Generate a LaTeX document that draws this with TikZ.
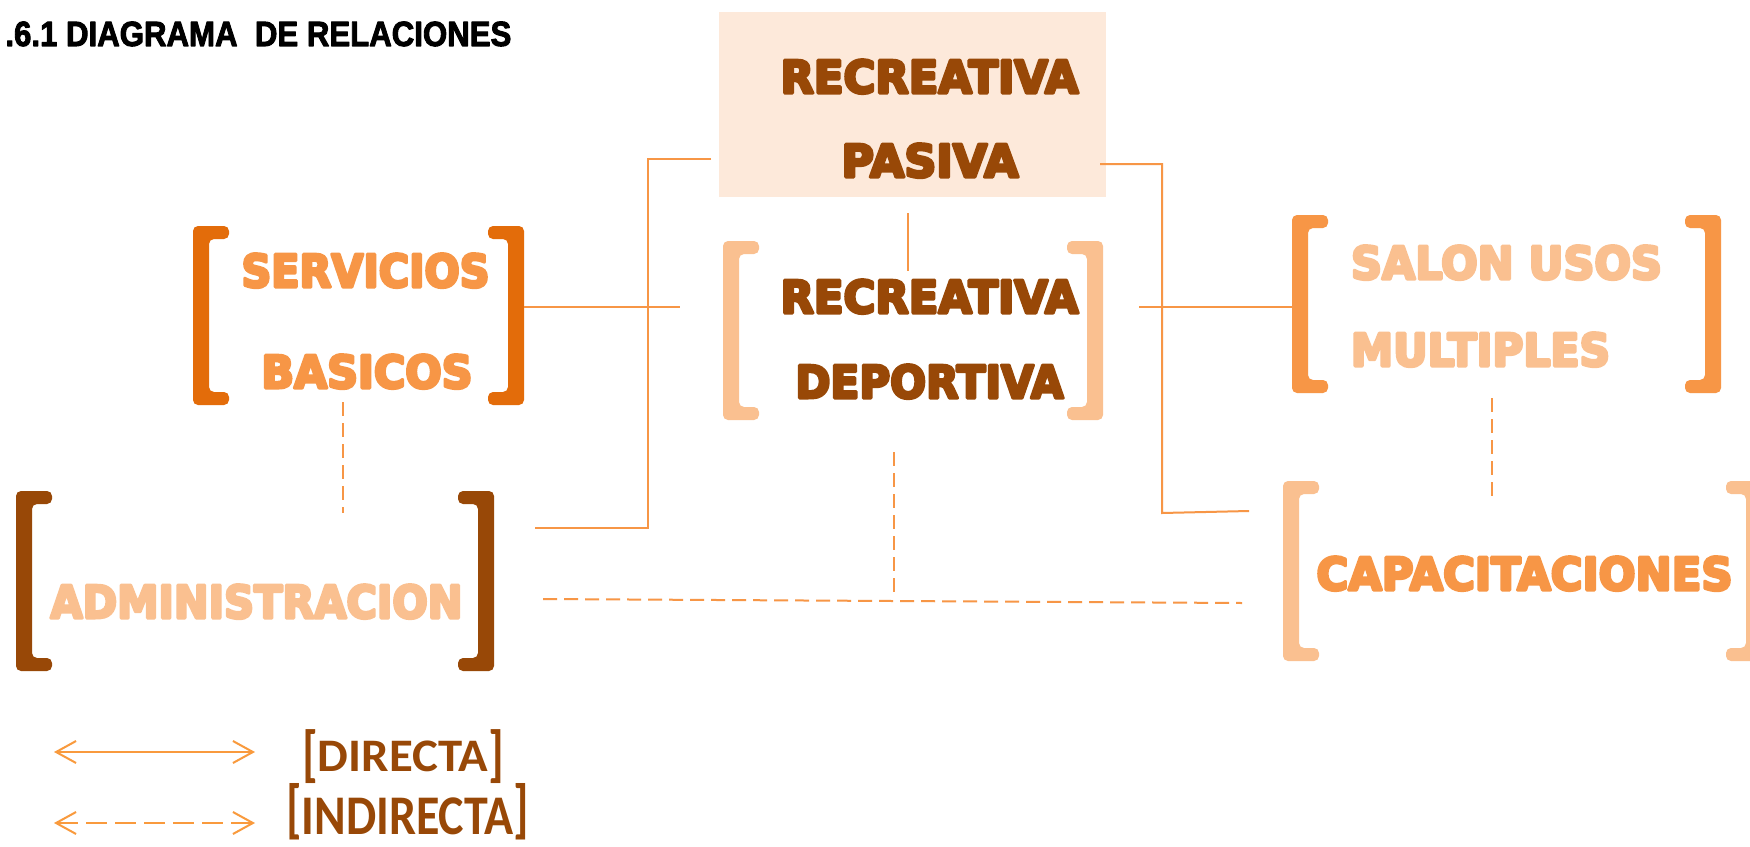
\documentclass[tikz,border=0pt]{standalone}
\usepackage{fontspec}
\usepackage{graphicx}
\usetikzlibrary{calc,arrows.meta}
\newfontfamily\dvfont{DejaVu Sans}[UprightFont={* Bold}]
\newfontfamily\lsfont{Liberation Sans}
\newfontfamily\cafont{Carlito}
\newcommand\dvb{\dvfont\fontsize{22.5pt}{27pt}\selectfont}
\newcommand\tallbr[3][-0.07em]{\raisebox{#1}{\scalebox{1}[#2]{#3}}}
% heavier text: fill and stroke the glyphs
\newcommand\hvy[2]{\special{pdf:code q #1 w 1 j 2 Tr}#2\special{pdf:code Q}}
\definecolor{cBrown}{HTML}{984807}
\definecolor{cDkOr}{HTML}{E36C0A}
\definecolor{cOr}{HTML}{F79646}
\definecolor{cLtOr}{HTML}{FAC090}
\definecolor{cPeach}{HTML}{FDE9DA}
\definecolor{cArrow}{HTML}{F99A3D}
\newcommand\drawbrk[2]{%
 \fill[#2, rounded corners=2.5pt] (#1.north west) -- ($(#1.north west)+(36,0)$) -- ($(#1.north west)+(36,13)$) -- ($(#1.north west)+(16,13)$) -- ($(#1.south west)+(16,-13)$) -- ($(#1.south west)+(36,-13)$) -- ($(#1.south west)+(36,0)$) -- (#1.south west) -- cycle;
 \fill[#2, rounded corners=2.5pt] (#1.north east) -- ($(#1.north east)+(-36,0)$) -- ($(#1.north east)+(-36,13)$) -- ($(#1.north east)+(-16,13)$) -- ($(#1.south east)+(-16,-13)$) -- ($(#1.south east)+(-36,-13)$) -- ($(#1.south east)+(-36,0)$) -- (#1.south east) -- cycle;}
\newcommand\lab[2]{\resizebox{#1}{\height}{\hvy{1.5}{#2}}}
\begin{document}
\begin{tikzpicture}[x=0.5pt,y=-0.5pt,
  conn/.style={draw=cOr, line width=1pt},
  dconn/.style={draw=cOr, line width=1pt, dash pattern=on 7pt off 3.5pt},
  brk/.style={inner sep=0pt, outer sep=0pt, minimum height=89.5pt},
  lbl/.style={inner sep=0pt, outer sep=0pt, anchor=base, font=\dvb},
  legarrow/.style={draw=cArrow, line width=1pt, {Straight Barb[length=10pt,width=11pt]}-{Straight Barb[length=10pt,width=11pt]}}]
\useasboundingbox (0,0) rectangle (1750,846);
\clip (0,0) rectangle (1750,846);
\fill[white] (0,0) rectangle (1750,846);

% title
\node[inner sep=0pt, anchor=base west, font=\lsfont\bfseries\fontsize{17.5pt}{21pt}\selectfont] (title) at (5,46) {\resizebox{253pt}{\height}{\hvy{0.5}{.6.1 DIAGRAMA\ \ DE RELACIONES}}};

% boxes
\node[fill=cPeach, inner sep=0pt, outer sep=0pt, minimum width=193.5pt, minimum height=92.5pt] (pas) at (912.5,104.5) {};
\node[brk, minimum width=165.5pt] (serv) at (358.5,315.5) {};
\node[brk, minimum width=190pt] (dep) at (913,330.5) {};
\node[brk, minimum width=214.5pt, minimum height=89pt] (salon) at (1506.5,304) {};
\node[brk, minimum width=239pt, minimum height=90pt] (adm) at (255,581) {};
\node[brk, minimum width=239.5pt, minimum height=90pt] (cap) at (1522.5,571) {};

\drawbrk{serv}{cDkOr}
\drawbrk{dep}{cLtOr}
\drawbrk{salon}{cOr}
\drawbrk{adm}{cBrown}
\drawbrk{cap}{cLtOr}

% labels
\node[lbl, text=cBrown] (pas1) at (929.5,93) {\lab{149pt}{RECREATIVA}};
\node[lbl, text=cBrown] (pas2) at (930,177) {\lab{88.5pt}{PASIVA}};
\node[lbl, text=cOr] (serv1) at (365.5,287) {\lab{124pt}{SERVICIOS}};
\node[lbl, text=cOr] (serv2) at (367,388) {\lab{105.5pt}{BASICOS}};
\node[lbl, text=cBrown] (dep1) at (929.5,313) {\lab{149pt}{RECREATIVA}};
\node[lbl, text=cBrown] (dep2) at (929.5,398) {\lab{134pt}{DEPORTIVA}};
\node[lbl, anchor=base west, text=cLtOr] (sal1) at (1351,279) {\lab{155.5pt}{SALON USOS}};
\node[lbl, anchor=base west, text=cLtOr] (sal2) at (1351,366) {\lab{129.5pt}{MULTIPLES}};
\node[lbl, text=cLtOr] (adm1) at (256.5,618) {\lab{206pt}{ADMINISTRACION}};
\node[lbl, text=cOr] (cap1) at (1524.5,590) {\lab{208pt}{CAPACITACIONES}};

% direct connectors
\coordinate (p1) at (711,159);
\coordinate (p2) at (648,159);
\coordinate (p3) at (648,528);
\coordinate (p4) at (535,528);
\draw[conn] (p1) -- (p2) -- (p3) -- (p4);
\coordinate (s1) at (680,307);
\draw[conn] (serv.east |- s1) -- (s1);
\coordinate (q1) at (1162,164);
\coordinate (q2) at (1162,513);
\coordinate (q3) at (1249,511);
\draw[conn] ($(pas.east |- q1)+(-6,0)$) -- (q1) -- (q2) -- (q3);
\coordinate (r1) at (1139,307);
\draw[conn] (r1) -- (salon.west |- r1);
\coordinate (v1) at (908,213);
\coordinate (v2) at (908,271);
\draw[conn] (v1) -- (v2);

% indirect connectors
\coordinate (d1) at (343,402);
\coordinate (d2) at (343,513);
\draw[dconn] (d1) -- (d2);
\coordinate (e1) at (894,452);
\coordinate (e2) at (894,599);
\draw[dconn] (e1) -- (e2);
\coordinate (f1) at (543,599);
\coordinate (f2) at (1242,603);
\draw[dconn] (f1) -- (f2);
\coordinate (g1) at (1492,398);
\coordinate (g2) at (1492,499);
\draw[dconn] (g1) -- (g2);

% legend
\coordinate (l1a) at (54,752);
\coordinate (l1b) at (255,752);
\draw[legarrow] (l1a) -- (l1b);
\coordinate (l2a) at (54,823);
\coordinate (l2b) at (255,823);
\draw[legarrow, dash pattern=on 10.5pt off 4pt] (l2a) -- (l2b);
\node[inner sep=0pt, anchor=base, text=cBrown, font=\cafont\bfseries\fontsize{23.3pt}{28pt}\selectfont] (ldir) at (403,771) {\resizebox{101pt}{\height}{\tallbr{1.32}{[}DIRECTA\tallbr{1.32}{]}}};
\node[inner sep=0pt, anchor=base, text=cBrown, font=\cafont\bfseries\fontsize{28pt}{33pt}\selectfont] (lind) at (407.5,834) {\resizebox{121.5pt}{\height}{\tallbr[0.06em]{1.15}{[}INDIRECTA\tallbr[0.06em]{1.15}{]}}};
\end{tikzpicture}
\end{document}
